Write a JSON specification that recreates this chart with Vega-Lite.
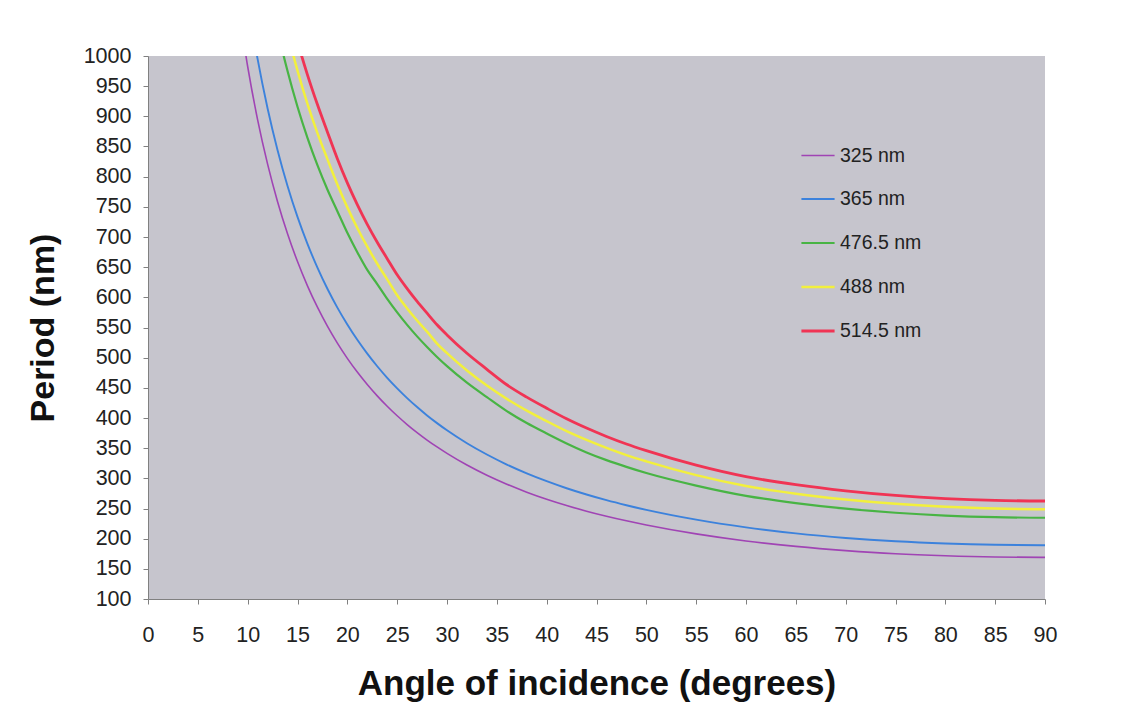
{
  "$schema": "https://vega.github.io/schema/vega-lite/v6.json",
  "width": 897,
  "height": 543,
  "autosize": {"type": "none"},
  "padding": {"left": 148, "top": 56, "right": 97, "bottom": 117},
  "background": "#ffffff",
  "config": {
    "font": "Liberation Sans",
    "view": {"stroke": null, "fill": "#c6c5cd"}
  },
  "data": {
    "values": [
      {"angle": 9, "p325": 1090.7, "p365": 1213.3, "p476": 1500.2, "p488": 1606.6, "p514": 1680.7},
      {"angle": 10, "p325": 982.6, "p365": 1093.0, "p476": 1351.4, "p488": 1447.3, "p514": 1514.1},
      {"angle": 11, "p325": 894.2, "p365": 994.7, "p476": 1229.9, "p488": 1317.2, "p514": 1377.9},
      {"angle": 12, "p325": 820.7, "p365": 912.9, "p476": 1128.7, "p488": 1208.8, "p514": 1264.5},
      {"angle": 13, "p325": 758.5, "p365": 843.8, "p476": 1043.2, "p488": 1117.2, "p514": 1168.8},
      {"angle": 14, "p325": 705.3, "p365": 784.6, "p476": 975.0, "p488": 1038.9, "p514": 1086.8},
      {"angle": 15, "p325": 659.3, "p365": 733.3, "p476": 915.9, "p488": 975.8, "p514": 1023.8},
      {"angle": 16, "p325": 619.1, "p365": 688.6, "p476": 864.4, "p488": 920.6, "p514": 968.8},
      {"angle": 17, "p325": 583.6, "p365": 649.2, "p476": 819.0, "p488": 872.2, "p514": 919.5},
      {"angle": 18, "p325": 552.2, "p365": 614.2, "p476": 778.7, "p488": 829.1, "p514": 874.1},
      {"angle": 19, "p325": 524.1, "p365": 583.0, "p476": 742.8, "p488": 787.0, "p514": 829.7},
      {"angle": 20, "p325": 498.9, "p365": 555.0, "p476": 707.0, "p488": 749.1, "p514": 789.7},
      {"angle": 21, "p325": 476.1, "p365": 529.6, "p476": 674.8, "p488": 715.0, "p514": 753.7},
      {"angle": 22, "p325": 455.5, "p365": 506.7, "p476": 645.5, "p488": 683.9, "p514": 721.0},
      {"angle": 23, "p325": 436.7, "p365": 485.8, "p476": 622.0, "p488": 655.7, "p514": 691.3},
      {"angle": 24, "p325": 419.5, "p365": 466.6, "p476": 597.5, "p488": 629.9, "p514": 664.1},
      {"angle": 25, "p325": 403.7, "p365": 449.1, "p476": 575.1, "p488": 603.4, "p514": 637.3},
      {"angle": 26, "p325": 389.2, "p365": 433.0, "p476": 554.4, "p488": 581.6, "p514": 614.4},
      {"angle": 27, "p325": 375.8, "p365": 418.1, "p476": 535.3, "p488": 561.6, "p514": 593.2},
      {"angle": 28, "p325": 363.4, "p365": 404.2, "p476": 517.7, "p488": 543.1, "p514": 573.7},
      {"angle": 29, "p325": 352.0, "p365": 391.5, "p476": 501.2, "p488": 523.4, "p514": 554.5},
      {"angle": 30, "p325": 341.3, "p365": 379.6, "p476": 486.0, "p488": 507.5, "p514": 537.7},
      {"angle": 32, "p325": 322.0, "p365": 358.2, "p476": 458.6, "p488": 478.8, "p514": 507.3},
      {"angle": 34, "p325": 305.1, "p365": 339.5, "p476": 434.6, "p488": 453.8, "p514": 480.7},
      {"angle": 36, "p325": 290.3, "p365": 322.9, "p476": 411.4, "p488": 431.7, "p514": 455.1},
      {"angle": 38, "p325": 277.1, "p365": 308.3, "p476": 391.6, "p488": 412.2, "p514": 434.6},
      {"angle": 40, "p325": 265.4, "p365": 295.3, "p476": 374.4, "p488": 394.8, "p514": 416.2},
      {"angle": 42, "p325": 255.0, "p365": 283.6, "p476": 357.9, "p488": 378.2, "p514": 398.7},
      {"angle": 44, "p325": 245.6, "p365": 273.2, "p476": 343.0, "p488": 363.6, "p514": 383.3},
      {"angle": 46, "p325": 237.2, "p365": 263.8, "p476": 330.2, "p488": 350.4, "p514": 369.4},
      {"angle": 48, "p325": 229.6, "p365": 255.4, "p476": 319.0, "p488": 338.5, "p514": 356.9},
      {"angle": 50, "p325": 222.7, "p365": 247.7, "p476": 308.8, "p488": 328.1, "p514": 345.9},
      {"angle": 55, "p325": 207.9, "p365": 231.5, "p476": 288.0, "p488": 305.3, "p514": 321.9},
      {"angle": 60, "p325": 196.2, "p365": 218.7, "p476": 271.0, "p488": 287.3, "p514": 302.9},
      {"angle": 65, "p325": 187.2, "p365": 208.7, "p476": 259.0, "p488": 274.6, "p514": 289.5},
      {"angle": 70, "p325": 180.2, "p365": 201.2, "p476": 249.7, "p488": 264.9, "p514": 279.3},
      {"angle": 75, "p325": 174.9, "p365": 195.7, "p476": 243.0, "p488": 257.7, "p514": 271.6},
      {"angle": 80, "p325": 171.6, "p365": 192.0, "p476": 238.3, "p488": 252.8, "p514": 266.4},
      {"angle": 85, "p325": 169.6, "p365": 189.8, "p476": 235.6, "p488": 249.8, "p514": 263.4},
      {"angle": 90, "p325": 169.0, "p365": 189.1, "p476": 234.7, "p488": 248.9, "p514": 262.4}
    ]
  },
  "transform": [
    {"fold": ["p325", "p365", "p476", "p488", "p514"], "as": ["key", "period"]},
    {"lookup": "key", "from": {"data": {"values": [
      {"key": "p325", "series": "325 nm"},
      {"key": "p365", "series": "365 nm"},
      {"key": "p476", "series": "476.5 nm"},
      {"key": "p488", "series": "488 nm"},
      {"key": "p514", "series": "514.5 nm"}
    ]}, "key": "key", "fields": ["series"]}}
  ],
  "mark": {"type": "line", "interpolate": "monotone", "clip": true},
  "encoding": {
    "x": {
      "field": "angle", "type": "quantitative",
      "scale": {"domain": [0, 90], "nice": false, "zero": false},
      "axis": {
        "values": [0,5,10,15,20,25,30,35,40,45,50,55,60,65,70,75,80,85,90],
        "grid": false, "tickSize": 5, "tickColor": "#808080", "domainColor": "#808080",
        "labelFlush": false, "labelFontSize": 21.5, "labelColor": "#222222", "labelPadding": 20,
        "title": "Angle of incidence (degrees)",
        "titleFontSize": 35, "titleFontWeight": "bold", "titleColor": "#111111", "titlePadding": 21
      }
    },
    "y": {
      "field": "period", "type": "quantitative",
      "scale": {"domain": [100, 1000], "nice": false, "zero": false},
      "axis": {
        "values": [100,150,200,250,300,350,400,450,500,550,600,650,700,750,800,850,900,950,1000],
        "format": "d",
        "grid": false, "tickSize": 5, "tickColor": "#808080", "domainColor": "#808080",
        "labelFlush": false, "labelFontSize": 21.5, "labelColor": "#222222", "labelPadding": 12,
        "title": "Period (nm)",
        "titleFontSize": 34, "titleFontWeight": "bold", "titleColor": "#111111", "titlePadding": 23
      }
    },
    "color": {
      "field": "series", "type": "nominal",
      "sort": ["325 nm", "365 nm", "476.5 nm", "488 nm", "514.5 nm"],
      "scale": {
        "domain": ["325 nm", "365 nm", "476.5 nm", "488 nm", "514.5 nm"],
        "range": ["#a044b4", "#3c82dc", "#48b444", "#f2f03c", "#f03454"]
      },
      "legend": {
        "orient": "none", "legendX": 652, "legendY": 82,
        "title": null, "symbolType": "stroke", "symbolSize": 1100, "symbolStrokeWidth": 2.5,
        "labelFontSize": 19.5, "labelColor": "#222222", "rowPadding": 16, "labelOffset": 4
      }
    },
    "strokeWidth": {
      "field": "series", "type": "nominal",
      "scale": {
        "domain": ["325 nm", "365 nm", "476.5 nm", "488 nm", "514.5 nm"],
        "range": [1.6, 2.8, 2.6, 2.4, 2.6]
      },
      "legend": null
    }
  }
}
